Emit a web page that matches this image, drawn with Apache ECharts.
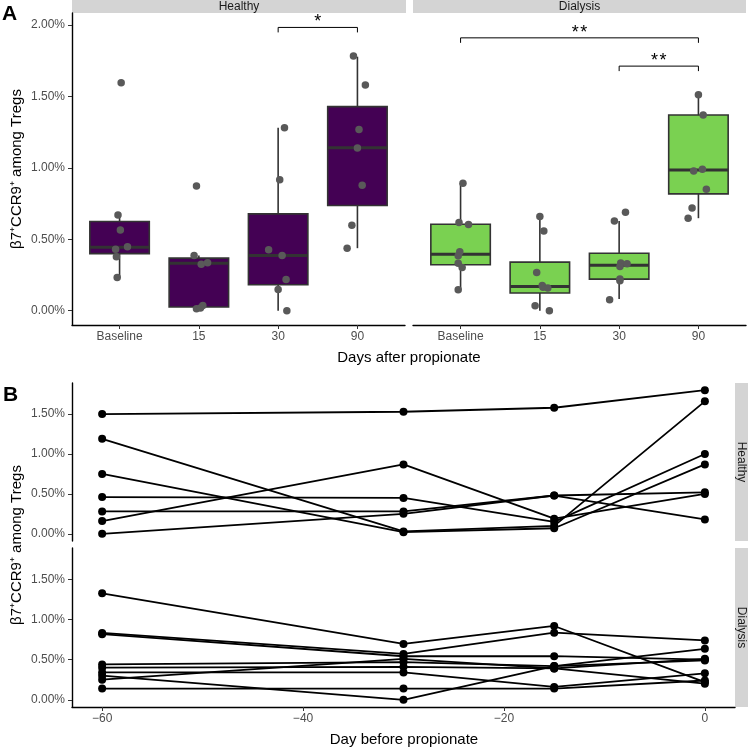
<!DOCTYPE html>
<html>
<head>
<meta charset="utf-8">
<script src="https://cdn.jsdelivr.net/npm/echarts@6/dist/echarts.min.js"></script>
<style>
  html, body { margin: 0; padding: 0; background: #fff; }
  #chart { width: 750px; height: 750px; }
</style>
</head>
<body>
<div id="chart"></div>
<script>
// ---- panel A: boxplots per timepoint ----
var timepoints = ["Baseline", "15", "30", "90"];

// [low whisker, Q1, median, Q3, high whisker] (%)
var healthyBoxes = [
  [0.233, 0.400, 0.445, 0.625, 0.671],
  [0.014, 0.026, 0.333, 0.368, 0.387],
  [0.000, 0.182, 0.387, 0.678, 1.282],
  [0.438, 0.737, 1.142, 1.429, 1.779]
];
var dialysisBoxes = [
  [0.147, 0.322, 0.396, 0.606, 0.893],
  [0.000, 0.124, 0.170, 0.340, 0.660],
  [0.082, 0.221, 0.319, 0.403, 0.629],
  [0.648, 0.818, 0.986, 1.371, 1.513]
];

// individual samples per timepoint (%)
var healthyValues = [
  [1.597, 0.671, 0.566, 0.431, 0.448, 0.378, 0.233],
  [0.874, 0.387, 0.326, 0.336, 0.037, 0.014, 0.019],
  [1.282, 0.918, 0.427, 0.387, 0.219, 0.149, 0.000],
  [1.783, 1.580, 1.270, 1.140, 0.879, 0.599, 0.438]
];
var dialysisValues = [
  [0.893, 0.618, 0.604, 0.413, 0.385, 0.333, 0.303, 0.147],
  [0.660, 0.559, 0.268, 0.177, 0.165, 0.159, 0.035, 0.000],
  [0.690, 0.629, 0.335, 0.329, 0.310, 0.222, 0.210, 0.077],
  [1.513, 1.371, 0.991, 0.979, 0.851, 0.720, 0.648]
];
// horizontal jitter (category units)
var healthyJitter = [
  [0.02, -0.02, 0.01, -0.05, 0.10, -0.04, -0.03],
  [-0.03, -0.06, 0.03, 0.11, 0.05, -0.03, 0.02],
  [0.08, 0.02, -0.12, 0.05, 0.10, 0.00, 0.11],
  [-0.05, 0.10, 0.02, 0.00, 0.06, -0.07, -0.13]
];
var dialysisJitter = [
  [0.03, -0.02, 0.10, -0.01, -0.03, -0.03, 0.02, -0.03],
  [0.00, 0.05, -0.04, 0.03, 0.04, 0.10, -0.06, 0.12],
  [0.08, -0.06, 0.02, 0.10, 0.01, 0.01, 0.01, -0.12],
  [0.00, 0.06, 0.05, -0.06, 0.10, -0.08, -0.13]
];

// significance brackets: [from index, to index, bracket height %, label]
var healthySig = [[2, 3, 1.984, "*"]];
var dialysisSig = [[0, 3, 1.911, "*\u200A*"], [2, 3, 1.713, "*\u200A*"]];

var yTicksA = [0, 0.5, 1, 1.5, 2];

// ---- panel B: individual trajectories ----
var days = [-60, -30, -15, 0];
var dayTicks = [-60, -40, -20, 0];
var yTicksB = [0, 0.5, 1, 1.5];

var healthyTraj = [
  [1.50, 1.53, 1.58, 1.80],
  [1.19, 0.03, 0.10, 1.66],
  [0.75, 0.02, 0.07, 0.87],
  [0.46, 0.45, 0.15, 1.00],
  [0.28, 0.28, 0.48, 0.18],
  [0.00, 0.25, 0.48, 0.52],
  [0.16, 0.87, 0.19, 0.50]
];
var dialysisTraj = [
  [1.325, 0.696, 0.919, 0.22],
  [0.833, 0.571, 0.835, 0.739],
  [0.817, 0.542, 0.543, 0.50],
  [0.44, 0.47, 0.42, 0.635],
  [0.40, 0.41, 0.39, 0.51],
  [0.34, 0.34, 0.16, 0.33],
  [0.25, 0.51, 0.39, 0.20],
  [0.30, 0.00, 0.42, 0.49],
  [0.14, 0.14, 0.14, 0.24]
];

var FONT = "'Liberation Sans', Arial, Helvetica, sans-serif";
var chart = echarts.init(document.getElementById("chart"), null, { renderer: "canvas" });

function pct(v) { return v.toFixed(2) + "%"; }

function boxItem(params, api) {
  var x = api.value(0);
  var lo = api.coord([x, api.value(1)]);
  var q1 = api.coord([x, api.value(2)]);
  var md = api.coord([x, api.value(3)]);
  var q3 = api.coord([x, api.value(4)]);
  var hi = api.coord([x, api.value(5)]);
  var half = api.size([0.75, 0])[0] / 2;
  var cx = lo[0];
  var stroke = { stroke: "#333333", lineWidth: 1.6 };
  return {
    type: "group",
    children: [
      { type: "line", shape: { x1: cx, y1: hi[1], x2: cx, y2: q3[1] }, style: stroke },
      { type: "line", shape: { x1: cx, y1: q1[1], x2: cx, y2: lo[1] }, style: stroke },
      { type: "rect", shape: { x: cx - half, y: q3[1], width: half * 2, height: q1[1] - q3[1] },
        style: { fill: api.visual("color"), stroke: "#333333", lineWidth: 1.6 } },
      { type: "line", shape: { x1: cx - half, y1: md[1], x2: cx + half, y2: md[1] },
        style: { stroke: "#333333", lineWidth: 3 } }
    ]
  };
}

function sigItem(params, api) {
  var a = api.value(0) + 1, b = api.value(1) + 1, h = api.value(2);
  var p1 = api.coord([a, h - 0.035]), p2 = api.coord([a, h]);
  var p3 = api.coord([b, h]), p4 = api.coord([b, h - 0.035]);
  var mid = api.coord([(a + b) / 2, h]);
  return {
    type: "group",
    children: [
      { type: "polyline", shape: { points: [p1, p2, p3, p4] }, style: { stroke: "#000", lineWidth: 1, fill: null } },
      { type: "text", x: mid[0], y: mid[1] - 5,
        style: { text: params.context.labels[params.dataIndex], font: "18px " + FONT, fill: "#000", align: "center", verticalAlign: "middle" } }
    ]
  };
}

function boxData(boxes) { return boxes.map(function (b, i) { return [i + 1].concat(b); }); }
function pointData(vals, jit) {
  var out = [];
  vals.forEach(function (arr, i) {
    arr.forEach(function (v, j) { out.push([i + 1 + jit[i][j], v]); });
  });
  return out;
}

var axisLineStyle = { color: "#000", width: 1.4 };
var tickStyle = { color: "#333333", width: 1 };
var labelStyle = { color: "#4d4d4d", fontSize: 12, fontFamily: FONT };

function catXAxis(grid) {
  return {
    gridIndex: grid, type: "value", min: 0.4, max: 4.6,
    axisLine: { show: true, onZero: false, lineStyle: axisLineStyle },
    axisTick: { show: true, customValues: [1, 2, 3, 4], length: 4, lineStyle: tickStyle },
    axisLabel: Object.assign({ customValues: [1, 2, 3, 4], margin: 6,
      formatter: function (v) { return timepoints[Math.round(v) - 1]; } }, labelStyle),
    splitLine: { show: false }
  };
}
function yAxisA(grid, show) {
  return {
    gridIndex: grid, type: "value", min: -0.1, max: 2.085,
    axisLine: { show: show, onZero: false, lineStyle: axisLineStyle },
    axisTick: { show: show, customValues: yTicksA, length: 4, lineStyle: tickStyle },
    axisLabel: Object.assign({ show: show, customValues: yTicksA, margin: 7, formatter: pct }, labelStyle),
    splitLine: { show: false }
  };
}
function dayXAxis(grid, show) {
  return {
    gridIndex: grid, type: "value", min: -63, max: 3,
    axisLine: { show: show, onZero: false, lineStyle: axisLineStyle },
    axisTick: { show: show, customValues: dayTicks, length: 4, lineStyle: tickStyle },
    axisLabel: Object.assign({ show: show, customValues: dayTicks, margin: 6,
      formatter: function (v) { return v < 0 ? "\u2212" + Math.abs(v) : String(v); } }, labelStyle),
    splitLine: { show: false }
  };
}
function yAxisB(grid) {
  return {
    gridIndex: grid, type: "value", min: -0.09, max: 1.89,
    axisLine: { show: true, onZero: false, lineStyle: axisLineStyle },
    axisTick: { show: true, customValues: yTicksB, length: 4, lineStyle: tickStyle },
    axisLabel: Object.assign({ customValues: yTicksB, margin: 7, formatter: pct }, labelStyle),
    splitLine: { show: false }
  };
}

var series = [];
[[healthyBoxes, healthyValues, healthyJitter, healthySig, "#440154"],
 [dialysisBoxes, dialysisValues, dialysisJitter, dialysisSig, "#7AD151"]].forEach(function (g, k) {
  series.push({
    type: "custom", xAxisIndex: k, yAxisIndex: k, renderItem: boxItem,
    itemStyle: { color: g[4] }, data: boxData(g[0]), z: 2, silent: true
  });
  series.push({
    type: "scatter", xAxisIndex: k, yAxisIndex: k, symbol: "circle", symbolSize: 7.5,
    itemStyle: { color: "#595959", opacity: 1 }, data: pointData(g[1], g[2]), z: 3, silent: true
  });
  var sig = g[3];
  series.push({
    type: "custom", xAxisIndex: k, yAxisIndex: k, z: 4, silent: true,
    renderItem: function (params, api) {
      params.context.labels = sig.map(function (s) { return s[3]; });
      return sigItem(params, api);
    },
    data: sig.map(function (s) { return [s[0], s[1], s[2]]; })
  });
});

[[healthyTraj, 2], [dialysisTraj, 3]].forEach(function (g) {
  g[0].forEach(function (subj) {
    series.push({
      type: "line", xAxisIndex: g[1], yAxisIndex: g[1], symbol: "circle", symbolSize: 8,
      showSymbol: true, showAllSymbol: true, silent: true,
      lineStyle: { color: "#000", width: 1.8 }, itemStyle: { color: "#000" },
      data: days.map(function (d, i) { return [d, subj[i]]; })
    });
  });
});

function stripText(x, y, text, rot) {
  return { type: "text", x: x, y: y, rotation: rot || 0, z: 10,
    style: { text: text, font: "12px " + FONT, fill: "#1a1a1a", align: "center", verticalAlign: "middle" } };
}

var yTitle = "\u03B27\u207ACCR9\u207A among Tregs";

chart.setOption({
  animation: false,
  backgroundColor: "#fff",
  grid: [
    { left: 72, top: 13, width: 333, height: 312, outerBoundsMode: "none" },
    { left: 413, top: 13, width: 333, height: 312, outerBoundsMode: "none" },
    { left: 72, top: 383, width: 663, height: 158, outerBoundsMode: "none" },
    { left: 72, top: 548, width: 663, height: 159, outerBoundsMode: "none" }
  ],
  xAxis: [catXAxis(0), catXAxis(1), dayXAxis(2, false), dayXAxis(3, true)],
  yAxis: [yAxisA(0, true), yAxisA(1, false), yAxisB(2), yAxisB(3)],
  series: series,
  graphic: [
    { type: "rect", shape: { x: 72, y: 0, width: 334, height: 13 }, style: { fill: "#d4d4d4" } },
    { type: "rect", shape: { x: 413, y: 0, width: 333, height: 13 }, style: { fill: "#d4d4d4" } },
    stripText(239, 7, "Healthy"),
    stripText(579.5, 7, "Dialysis"),
    { type: "rect", shape: { x: 735, y: 383, width: 13, height: 158 }, style: { fill: "#d4d4d4" } },
    { type: "rect", shape: { x: 735, y: 548, width: 13, height: 159 }, style: { fill: "#d4d4d4" } },
    stripText(741.5, 462, "Healthy", -Math.PI / 2),
    stripText(741.5, 627.5, "Dialysis", -Math.PI / 2),
    { type: "text", x: 2, y: 14, style: { text: "A", font: "bold 21px " + FONT, fill: "#000", verticalAlign: "middle" } },
    { type: "text", x: 3, y: 395, style: { text: "B", font: "bold 21px " + FONT, fill: "#000", verticalAlign: "middle" } },
    { type: "text", x: 17, y: 169, rotation: Math.PI / 2,
      style: { text: yTitle, font: "15px " + FONT, fill: "#000", align: "center", verticalAlign: "middle" } },
    { type: "text", x: 17, y: 545, rotation: Math.PI / 2,
      style: { text: yTitle, font: "15px " + FONT, fill: "#000", align: "center", verticalAlign: "middle" } },
    { type: "text", x: 409, y: 358,
      style: { text: "Days after propionate", font: "15px " + FONT, fill: "#000", align: "center", verticalAlign: "middle" } },
    { type: "text", x: 404, y: 740,
      style: { text: "Day before propionate", font: "15px " + FONT, fill: "#000", align: "center", verticalAlign: "middle" } }
  ]
});
</script>
</body>
</html>
